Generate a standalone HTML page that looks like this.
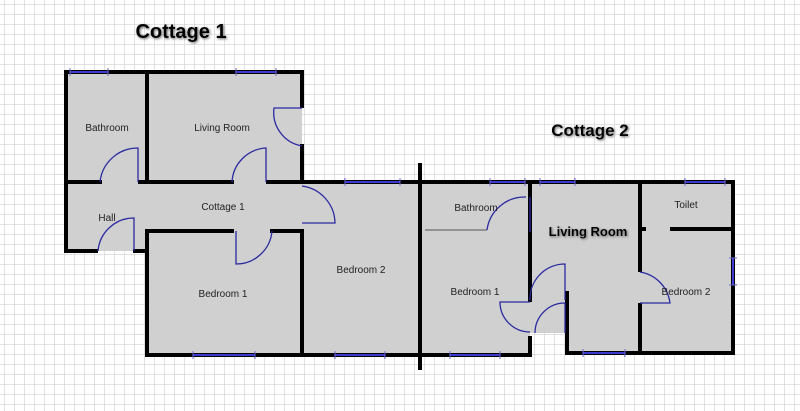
<!DOCTYPE html>
<html><head><meta charset="utf-8"><style>
html,body{margin:0;padding:0;background:#fff}
svg{display:block}
text{font-family:"Liberation Sans",sans-serif}
</style></head><body>
<svg width="800" height="411" viewBox="0 0 800 411" xmlns="http://www.w3.org/2000/svg">
<defs>
<pattern id="g" x="4" y="4" width="10" height="10" patternUnits="userSpaceOnUse">
<path d="M10 0H0V10" fill="none" stroke="#c4c4c4" stroke-width="1"/>
</pattern>
<filter id="sh"><feDropShadow dx="1" dy="1" stdDeviation="1.2" flood-color="#666"/></filter>
</defs>
<rect width="800" height="411" fill="#fff"/>
<rect width="800" height="411" fill="url(#g)"/>
<g fill="#d0d0d0">
<rect x="66" y="72" width="236" height="110"/>
<rect x="66" y="182" width="81" height="69"/>
<rect x="147" y="182" width="273" height="173"/>
<rect x="420" y="182" width="110" height="173"/>
<rect x="530" y="182" width="110" height="111"/>
<rect x="567" y="293" width="73" height="60"/>
<rect x="640" y="182" width="93" height="171"/>
<rect x="530" y="293" width="37" height="40"/>
</g>
<g stroke="#000" stroke-width="4" fill="none" stroke-linecap="square">
<path d="M66 72V251H96M135 251H147"/>
<path d="M66 72H302V106M302 146V182"/>
<path d="M147 72V182"/>
<path d="M66 182H100M140 182H232M268 182H420"/>
<path d="M147 251V231H232M272 231H302V355"/>
<path d="M147 231V355H420"/>
<path d="M420 182H733V353H640"/>
<path d="M530 182V300"/>
<path d="M420 355H530V338"/>
<path d="M567 293V353H640"/>
<path d="M640 182V270M640 305V353"/>
<path d="M672 229H733"/>
<path d="M640 229H644"/>
</g>
<path d="M420 163V370" stroke="#000" stroke-width="4"/>
<path d="M425 230H487" stroke="#555" stroke-width="1"/>
<g stroke="#3b3bd0" stroke-width="2">
<path d="M70 72H108M236 72H276M345 182H400M193 355H255M335 355H385M450 355H500M490 182H525M540 182H575M685 182H725M583 353H625M733 258V285"/>
</g>
<g stroke="#6a6ad0" stroke-width="1" fill="none">
<path d="M70 68v8M108 68v8M236 68v8M276 68v8M345 178v8M400 178v8M193 351v8M255 351v8M335 351v8M385 351v8M450 351v8M500 351v8M490 178v8M525 178v8M540 178v8M575 178v8M685 178v8M725 178v8M583 349v8M625 349v8M729 258h8M729 285h8"/>
</g>
<g stroke="#2a2aa0" stroke-width="1.3" fill="none">
<path d="M138 182V148A38 38 0 0 0 100 182"/>
<path d="M266 182V148A36 36 0 0 0 232 182"/>
<path d="M302 108H274A34 34 0 0 0 302 146"/>
<path d="M134 251V218A36 36 0 0 0 98 251"/>
<path d="M236 231V264A36 36 0 0 0 272 231"/>
<path d="M302 186A38 38 0 0 1 335 223H302"/>
<path d="M530 197V232"/>
<path d="M526 197A38 38 0 0 0 487 230"/>
<path d="M565 300V264A35 35 0 0 0 530 300"/>
<path d="M565 333V303A30 30 0 0 0 535 333"/>
<path d="M530 302H500A30 30 0 0 0 530 332"/>
<path d="M640 272A36 36 0 0 1 670 303H640"/>
</g>
<g font-size="10" fill="#222" text-anchor="middle">
<text x="107" y="131">Bathroom</text>
<text x="222" y="131">Living Room</text>
<text x="223" y="210">Cottage 1</text>
<text x="107" y="221">Hall</text>
<text x="223" y="297">Bedroom 1</text>
<text x="361" y="273">Bedroom 2</text>
<text x="476" y="211">Bathroom</text>
<text x="475" y="295">Bedroom 1</text>
<text x="686" y="208">Toilet</text>
<text x="686" y="295">Bedroom 2</text>
</g>
<g font-weight="bold" fill="#000" filter="url(#sh)" text-anchor="middle">
<text x="181" y="38" font-size="20">Cottage 1</text>
<text x="590" y="136" font-size="17">Cottage 2</text>
<text x="588" y="236" font-size="13">Living Room</text>
</g>
</svg>
</body></html>
